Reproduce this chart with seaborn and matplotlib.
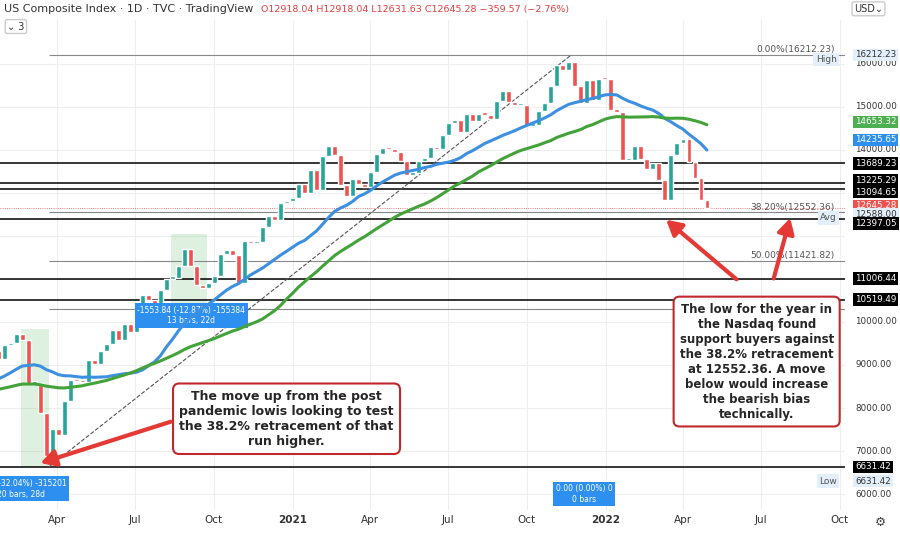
import pandas as pd
import numpy as np
import seaborn as sns
import matplotlib.pyplot as plt
import matplotlib.transforms as mtrans

sns.set_style("white")
plt.rcParams["font.family"] = "DejaVu Sans"

# weekly closes of the Nasdaq composite, Jul 2019 - Apr 2022
closes = [8162, 8244, 8146, 8330, 8004, 7959, 7895, 7751, 7962, 8103, 8176, 8117, 7940, 8156,
          7982, 8057, 8089, 8243, 8325, 8475, 8540, 8519, 8665, 8656, 8734, 8972, 8924, 8972,
          9162, 9178, 9389, 9314, 9150, 9467, 9520,
          9730, 9577, 8567, 8575, 7875, 6880, 7502, 7373, 8153, 8650, 8634, 8604, 9121, 9015,
          9325, 9490, 9814, 9589, 9946, 9757, 10208, 10617, 10503, 10363, 10745, 11011, 11019,
          11312, 11696, 11313, 10854, 10793, 10914, 11075, 11580, 11672, 11548, 10912, 11895,
          11829, 11855, 12206, 12464, 12378, 12756, 12805, 12888,
          13202, 12999, 13543, 13070, 13856, 14095, 13874, 13192, 12920, 13320, 13215, 13138,
          13480, 13900, 14052, 14016, 13962, 13752, 13430, 13471, 13749, 13814, 14069, 14030,
          14360, 14639, 14701, 14427, 14837, 14673, 14835, 14823, 14715, 15129, 15364, 15115,
          15044, 15048, 14567, 14580, 14897, 15090, 15498, 15971, 15860, 16057, 15491, 15085,
          15630, 15169, 15653, 15645,
          14936, 14893, 13768, 13770, 14098, 13791, 13548, 13694, 13313, 12843, 13893, 14169,
          14261, 13711, 13351, 12839, 12645]

levels = [13689.23, 13225.29, 13094.65, 12397.05, 11006.44, 10519.49, 6631.42]
fib_levels = [16212.23, 12552.36, 11421.82, 10291.0]
fib_labels = ["0.00%(16212.23)", "38.20%(12552.36)", "50.00%(11421.82)", ""]
axis_ticks = [16000, 15000, 14000, 10000, 9000, 8000, 7000, 6000]

dates = pd.date_range(end="2022-04-29", periods=len(closes), freq="W-FRI")
df = pd.DataFrame({"date": dates, "close": closes})
df["open"] = df["close"].shift(1).fillna(df["close"])
df["ma100"] = df["close"].rolling(20, min_periods=1).mean()
df["ma200"] = df["close"].rolling(40, min_periods=1).mean()

fig = plt.figure(figsize=(9, 5.37), dpi=100)
ax = fig.add_axes([0, 27 / 537, 845 / 900, 490 / 537])
xmin, xmax = pd.Timestamp("2020-01-26"), pd.Timestamp("2022-10-07")
ax.set_xlim(xmin, xmax)
ax.set_ylim(5628, 17023)

for x in pd.date_range("2020-01-01", "2022-10-01", freq="QS"):
    ax.axvline(x, color="#eeeeee", lw=0.8, zorder=0)
for y in range(6000, 17000, 1000):
    ax.axhline(y, color="#eeeeee", lw=0.8, zorder=0)

# green shaded boxes
ax.fill_between([pd.Timestamp("2020-02-19"), pd.Timestamp("2020-03-23")], 6631, 9830,
                color="#4caf50", alpha=0.18, lw=0)
ax.fill_between([pd.Timestamp("2020-08-12"), pd.Timestamp("2020-09-23")], 10400, 12050,
                color="#4caf50", alpha=0.18, lw=0)

# candles
up = df["close"] >= df["open"]
for sel, col in [(up, "#26a69a"), (~up, "#ef5350")]:
    d = df[sel]
    ax.bar(d["date"], (d["close"] - d["open"]).abs().clip(lower=50),
           bottom=d[["open", "close"]].min(axis=1), width=5.5, color=col, zorder=3)

sns.lineplot(data=df, x="date", y="ma100", ax=ax, color="#3d8fe0", lw=2.2, zorder=4)
sns.lineplot(data=df, x="date", y="ma200", ax=ax, color="#43a33a", lw=2.2, zorder=4)

for lv in levels:
    ax.axhline(lv, color="black", lw=1.1, zorder=2)
for lv, lab in zip(fib_levels, fib_labels):
    ax.hlines(lv, pd.Timestamp("2020-03-23"), xmax, color="#888888", lw=0.8, zorder=2)
    if lab:
        ax.text(pd.Timestamp("2022-09-25"), lv + 60, lab, fontsize=6.5, color="#555555",
                ha="right")

ax.plot([pd.Timestamp("2020-03-23"), pd.Timestamp("2021-11-22")], [6631.42, 16212.23],
        ls="--", color="#555555", lw=0.8, zorder=2)

ax.set_xlabel("")
ax.set_ylabel("")
ax.set_xticks([])
ax.set_yticks([])
for s in ax.spines.values():
    s.set_visible(False)

# x labels
for lab, d in [("Apr", "2020-04-01"), ("Jul", "2020-07-01"), ("Oct", "2020-10-01"),
               ("2021", "2021-01-01"), ("Apr", "2021-04-01"), ("Jul", "2021-07-01"),
               ("Oct", "2021-10-01"), ("2022", "2022-01-01"), ("Apr", "2022-04-01"),
               ("Jul", "2022-07-01"), ("Oct", "2022-10-01")]:
    ax.text(pd.Timestamp(d), 5400, lab, ha="center", va="center", fontsize=7.5,
            color="#333333", fontweight="bold" if lab.isdigit() else "normal", clip_on=False)

# right axis labels
tr = mtrans.blended_transform_factory(ax.transAxes, ax.transData)
for t in axis_ticks:
    ax.text(1.012, t, f"{t:.2f}", transform=tr, fontsize=6.3, va="center", color="#333333")
tags = [(16212.23, "#e3effb", "#333333"), (14653.32, "#4caf50", "white"),
        (14235.65, "#2d8ff0", "white"), (13689.23, "black", "white"),
        (13300.0, "black", "white"), (13020.0, "black", "white"),
        (12700.0, "#ef5350", "white"), (12500.0, "#e3effb", "#333333"),
        (12290.0, "black", "white"), (11006.44, "black", "white"),
        (10519.49, "black", "white"), (6631.42, "black", "white"),
        (6300.0, "#e3effb", "#333333")]
tag_text = ["16212.23", "14653.32", "14235.65", "13689.23", "13225.29", "13094.65",
            "12645.28", "12588.00", "12397.05", "11006.44", "10519.49", "6631.42", "6631.42"]
for (v, bg, fg), lab in zip(tags, tag_text):
    ax.text(1.012, v, lab, transform=tr, fontsize=6.3, va="center", color=fg,
            bbox=dict(boxstyle="square,pad=0.2", fc=bg, ec="none"))
for v, lab in [(16100, "High"), (12420, "Avg"), (6300, "Low")]:
    ax.text(0.99, v, lab, transform=tr, fontsize=6.5, va="center", ha="right", color="#555555",
            bbox=dict(boxstyle="square,pad=0.25", fc="#e3effb", ec="none"))
ax.axhline(12645.28, color="#ef5350", lw=0.6, ls=":", zorder=2)

# header
fig.text(0.005, 0.978, "US Composite Index · 1D · TVC · TradingView", fontsize=8, color="#333333")
fig.text(0.29, 0.978, "O12918.04 H12918.04 L12631.63 C12645.28 −359.57 (−2.76%)",
         fontsize=6.8, color="#e04040")
fig.text(0.008, 0.945, "⌄ 3", fontsize=7, color="#333333",
         bbox=dict(boxstyle="round,pad=0.2", fc="white", ec="#cccccc"))
fig.text(0.965, 0.978, "USD⌄", fontsize=7, ha="center", color="#333333",
         bbox=dict(boxstyle="round,pad=0.2", fc="white", ec="#cccccc"))
fig.text(0.978, 0.02, "⚙", fontsize=9, ha="center", color="#444444")

# measurement labels
blue = dict(boxstyle="square,pad=0.35", fc="#2d8ff0", ec="none")
ax.text(pd.Timestamp("2020-09-05"), 10150, "-1553.84 (-12.87%) -155384\n13 bars, 22d",
        ha="center", va="center", fontsize=5.5, color="white", bbox=blue)
ax.text(pd.Timestamp("2020-02-20"), 6120, "2.01 (-32.04%) -315201\n20 bars, 28d",
        ha="center", va="center", fontsize=5.5, color="white", bbox=blue)
ax.text(pd.Timestamp("2021-12-07"), 6000, "0.00 (0.00%) 0\n0 bars",
        ha="center", va="center", fontsize=5.5, color="white", bbox=blue)

# callouts
box = dict(boxstyle="round,pad=0.5", fc="white", ec="#c0282d", lw=1.5)
ax.text(pd.Timestamp("2020-12-25"), 7750,
        "The move up from the post\npandemic lowis looking to test\nthe 38.2% retracement of that\nrun higher.",
        ha="center", va="center", fontsize=9, fontweight="bold", bbox=box, zorder=6)
ax.text(pd.Timestamp("2022-06-26"), 9080,
        "The low for the year in\nthe Nasdaq found\nsupport buyers against\nthe 38.2% retracement\nat 12552.36. A move\nbelow would increase\nthe bearish bias\ntechnically.",
        ha="center", va="center", fontsize=8.5, fontweight="bold", bbox=box, zorder=6)
arrow = dict(arrowstyle="-|>,head_width=0.5,head_length=0.9", color="#e53935", lw=3)
ax.annotate("", xy=(pd.Timestamp("2020-03-10"), 6700), xytext=(pd.Timestamp("2020-08-15"), 7700),
            arrowprops=arrow, zorder=7)
ax.annotate("", xy=(pd.Timestamp("2022-03-10"), 12420), xytext=(pd.Timestamp("2022-06-05"), 10950),
            arrowprops=arrow, zorder=7)
ax.annotate("", xy=(pd.Timestamp("2022-08-05"), 12480), xytext=(pd.Timestamp("2022-07-15"), 10950),
            arrowprops=arrow, zorder=7)

fig.savefig("out.png", dpi=100)
